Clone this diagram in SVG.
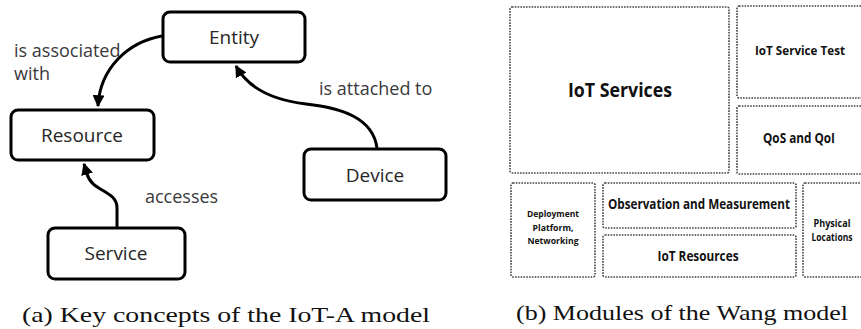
<svg xmlns="http://www.w3.org/2000/svg" width="861" height="329" viewBox="0 0 861 329">
<style>
.node rect{fill:#fff;stroke:#000;stroke-width:3}
.nt{font-family:"Open Sans","Liberation Sans",sans-serif;font-size:19px;fill:#262626;text-anchor:middle}
.lbl{font-family:"Open Sans","Liberation Sans",sans-serif;font-size:18px;fill:#3a3a3a}
.conn path{fill:none;stroke:#000;stroke-width:3}
.mod rect{fill:#fff;stroke:#444;stroke-width:1.6;stroke-dasharray:1.6 1.2}
.mt{font-family:"Open Sans","Liberation Sans",sans-serif;font-weight:bold;fill:#111;text-anchor:middle}
.cap{font-family:"Liberation Serif","DejaVu Serif",serif;font-size:22px;fill:#111}
</style>
<defs>
<marker id="ah" viewBox="0 0 10 10" refX="9" refY="5" markerWidth="4" markerHeight="4" orient="auto" markerUnits="strokeWidth">
<path d="M0,0 L10,5 L0,10 z" fill="#000"/>
</marker>
</defs>

<g class="conn" id="connectors">
<path d="M162,36 C128,42 100,68 98,106" marker-end="url(#ah)"/>
<path d="M377,148 C373,118 342,108 306,104 C272,100 248,88 236,66" marker-end="url(#ah)"/>
<path d="M117,227 L117,208 C117,190 92,192 87,174 L84,164" marker-end="url(#ah)"/>
</g>

<g id="entity" class="node"><rect x="163" y="12" width="142" height="50" rx="7"/><text class="nt" x="234" y="44">Entity</text></g>
<g id="resource" class="node"><rect x="11" y="110" width="143" height="50" rx="7"/><text class="nt" x="82" y="142">Resource</text></g>
<g id="device" class="node"><rect x="304" y="149" width="142" height="51" rx="7"/><text class="nt" x="375" y="182">Device</text></g>
<g id="service" class="node"><rect x="48" y="228" width="137" height="51" rx="7"/><text class="nt" x="116" y="260">Service</text></g>

<g id="labels">
<text class="lbl" x="14" y="57">is associated</text>
<text class="lbl" x="14" y="80">with</text>
<text class="lbl" x="319" y="95">is attached to</text>
<text class="lbl" x="145" y="203">accesses</text>
</g>

<g id="wang" class="mod">
<g id="iot-services"><rect x="510" y="7" width="219" height="166" rx="2"/><text class="mt" x="620" y="97" font-size="20" textLength="104" lengthAdjust="spacingAndGlyphs">IoT Services</text></g>
<g id="iot-service-test"><rect x="737" y="6" width="135" height="92" rx="2"/><text class="mt" x="800" y="55" font-size="13" textLength="90" lengthAdjust="spacingAndGlyphs">IoT Service Test</text></g>
<g id="qos-qoi"><rect x="737" y="106" width="135" height="68" rx="2"/><text class="mt" x="799" y="143" font-size="13.5" textLength="72" lengthAdjust="spacingAndGlyphs">QoS and QoI</text></g>
<g id="deployment"><rect x="511" y="183" width="84" height="94" rx="2"/>
<text class="mt" font-size="9"><tspan x="553" y="217" textLength="52" lengthAdjust="spacingAndGlyphs">Deployment</tspan><tspan x="553" y="231" textLength="41" lengthAdjust="spacingAndGlyphs">Platform,</tspan><tspan x="553" y="244" textLength="51" lengthAdjust="spacingAndGlyphs">Networking</tspan></text></g>
<g id="observation"><rect x="603" y="183" width="193" height="45" rx="2"/><text class="mt" x="699" y="209" font-size="14" textLength="182" lengthAdjust="spacingAndGlyphs">Observation and Measurement</text></g>
<g id="iot-resources"><rect x="603" y="235" width="193" height="42" rx="2"/><text class="mt" x="698" y="261" font-size="14" textLength="81" lengthAdjust="spacingAndGlyphs">IoT Resources</text></g>
<g id="physical"><rect x="803" y="183" width="70" height="94" rx="2"/>
<text class="mt" font-size="10"><tspan x="832" y="227" textLength="37" lengthAdjust="spacingAndGlyphs">Physical</tspan><tspan x="832" y="241" textLength="41" lengthAdjust="spacingAndGlyphs">Locations</tspan></text></g>
</g>

<g id="captions">
<text class="cap" x="22" y="322" font-size="23" textLength="408" lengthAdjust="spacingAndGlyphs">(a) Key concepts of the IoT-A model</text>
<text class="cap" x="516" y="320" font-size="23" textLength="332" lengthAdjust="spacingAndGlyphs">(b) Modules of the Wang model</text>
</g>
</svg>
